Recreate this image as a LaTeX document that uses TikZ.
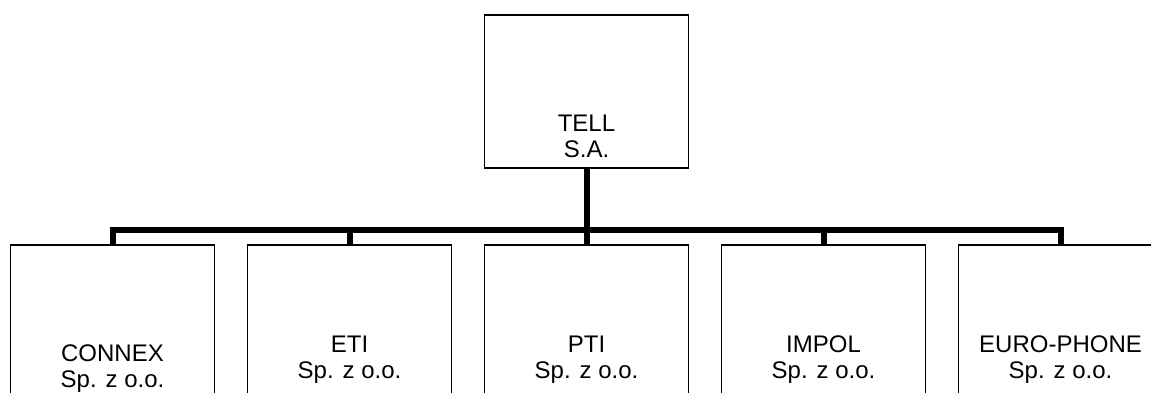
\documentclass[tikz,border=0pt]{standalone}
\usepackage{fontspec}
\setmainfont{Liberation Sans}
\usetikzlibrary{positioning}

\begin{document}
\begin{tikzpicture}[
    x=1pt, y=-1pt,
    node distance=33pt,
    firm/.style={draw=black, rectangle, line width=1.5pt, minimum width=204pt, minimum height=153pt, inner sep=0pt, outer sep=0pt},
    firmname/.style={align=center, font=\fontsize{24}{26}\selectfont, anchor=base, inner sep=0pt},
    bus/.style={line width=6pt, color=black}
]
\useasboundingbox (0,0) rectangle (1151,392);
\clip (0,0) rectangle (1151,392);

% Parent company
\node[firm] (tell) at (586.5,91.5) {};
\node[firmname] (tellname) at ([yshift=-142pt]tell.north) {TELL\\S.A.};

% Subsidiaries
\node[firm] (connex) at (112.5,321.5) {};
\node[firm, right=of connex] (eti) {};
\node[firm, right=of eti] (pti) {};
\node[firm, right=of pti] (impol) {};
\node[firm, right=of impol] (euro) {};

\node[firmname] (connexname) at ([yshift=-142pt]connex.north) {CONNEX\\Sp. z o.o.};
\node[firmname] (etiname) at ([yshift=-133pt]eti.north) {ETI\\Sp. z o.o.};
\node[firmname] (ptiname) at ([yshift=-133pt]pti.north) {PTI\\Sp. z o.o.};
\node[firmname] (impolname) at ([yshift=-133pt]impol.north) {IMPOL\\Sp. z o.o.};
\node[firmname] (euroname) at ([yshift=-133pt]euro.north) {EURO-PHONE\\Sp. z o.o.};

% Ownership lines
\draw[bus] (tell.south) -- (pti.north);
\draw[bus] (connex.north) -- ++(0,-15) -| (euro.north);
\draw[bus] (eti.north) -- ++(0,-15);
\draw[bus] (impol.north) -- ++(0,-15);

\end{tikzpicture}
\end{document}
